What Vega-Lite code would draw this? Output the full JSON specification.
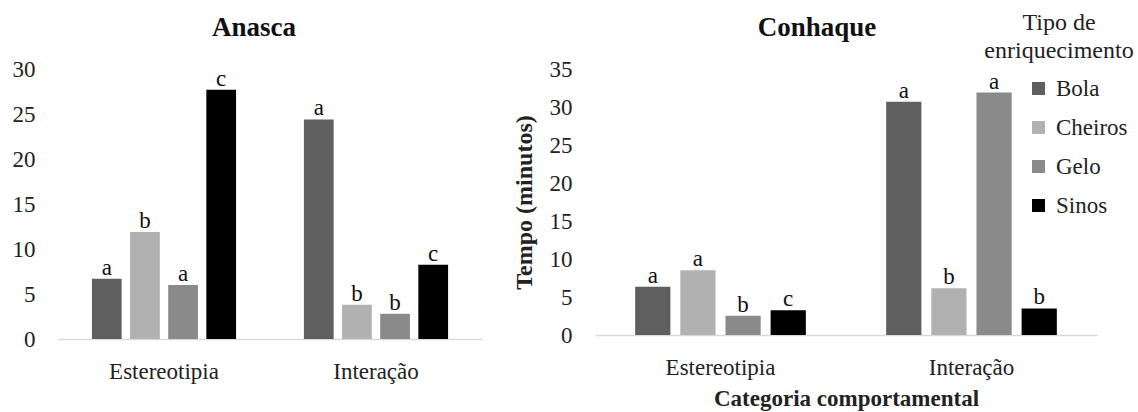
{
  "$schema": "https://vega.github.io/schema/vega-lite/v6.json",
  "padding": {"left": 12, "top": 11, "right": 2, "bottom": 2},
  "background": "white",
  "config": {
    "font": "Times New Roman, Liberation Serif, DejaVu Serif, serif",
    "view": {"stroke": null},
    "axis": {
      "labelFont": "Times New Roman, Liberation Serif, DejaVu Serif, serif",
      "titleFont": "Times New Roman, Liberation Serif, DejaVu Serif, serif",
      "labelColor": "#222222",
      "titleColor": "#222222",
      "labelFontSize": 23,
      "titleFontSize": 23,
      "grid": false,
      "ticks": false,
      "tickSize": 0
    },
    "legend": {
      "labelFont": "Times New Roman, Liberation Serif, DejaVu Serif, serif",
      "titleFont": "Times New Roman, Liberation Serif, DejaVu Serif, serif"
    },
    "title": {"font": "Times New Roman, Liberation Serif, DejaVu Serif, serif", "color": "#111111"},
    "text": {"font": "Times New Roman, Liberation Serif, DejaVu Serif, serif"}
  },
  "resolve": {"scale": {"color": "shared", "y": "independent", "x": "independent", "xOffset": "independent"}, "legend": {"color": "shared"}},
  "spacing": 30,
  "datasets": {
    "anasca": [
      {"categoria": "Estereotipia", "tipo": "Bola", "tempo": 6.7, "letra": "a"},
      {"categoria": "Estereotipia", "tipo": "Cheiros", "tempo": 11.9, "letra": "b"},
      {"categoria": "Estereotipia", "tipo": "Gelo", "tempo": 6.0, "letra": "a"},
      {"categoria": "Estereotipia", "tipo": "Sinos", "tempo": 27.7, "letra": "c"},
      {"categoria": "Interação", "tipo": "Bola", "tempo": 24.4, "letra": "a"},
      {"categoria": "Interação", "tipo": "Cheiros", "tempo": 3.8, "letra": "b"},
      {"categoria": "Interação", "tipo": "Gelo", "tempo": 2.8, "letra": "b"},
      {"categoria": "Interação", "tipo": "Sinos", "tempo": 8.25, "letra": "c"}
    ],
    "conhaque": [
      {"categoria": "Estereotipia", "tipo": "Bola", "tempo": 6.36, "letra": "a"},
      {"categoria": "Estereotipia", "tipo": "Cheiros", "tempo": 8.53, "letra": "a"},
      {"categoria": "Estereotipia", "tipo": "Gelo", "tempo": 2.52, "letra": "b"},
      {"categoria": "Estereotipia", "tipo": "Sinos", "tempo": 3.27, "letra": "c"},
      {"categoria": "Interação", "tipo": "Bola", "tempo": 30.7, "letra": "a"},
      {"categoria": "Interação", "tipo": "Cheiros", "tempo": 6.14, "letra": "b"},
      {"categoria": "Interação", "tipo": "Gelo", "tempo": 31.9, "letra": "a"},
      {"categoria": "Interação", "tipo": "Sinos", "tempo": 3.49, "letra": "b"}
    ]
  },
  "hconcat": [
    {
      "data": {"name": "anasca"},
      "width": 424,
      "height": 270,
      "title": {"text": "Anasca", "fontSize": 27, "fontWeight": "bold", "anchor": "middle", "dx": -16, "offset": 16},
      "encoding": {
        "x": {
          "field": "categoria", "type": "nominal", "sort": ["Estereotipia", "Interação"],
          "scale": {"paddingInner": 0.32, "paddingOuter": 0.16},
          "axis": {"title": null, "labelAngle": 0, "labelPadding": 21, "labelFont": "Times New Roman, Liberation Serif, serif", "domainColor": "#d9d9d9", "domainWidth": 1.5}
        },
        "xOffset": {
          "field": "tipo", "type": "nominal", "sort": ["Bola", "Cheiros", "Gelo", "Sinos"],
          "scale": {"paddingInner": 0.22, "paddingOuter": 0}
        },
        "y": {
          "field": "tempo", "type": "quantitative",
          "scale": {"domain": [0, 30], "nice": false},
          "axis": {"title": null, "values": [0, 5, 10, 15, 20, 25, 30], "domain": false, "labelPadding": 23, "labelFont": "Times New Roman, Liberation Serif, serif"}
        }
      },
      "layer": [
        {
          "mark": {"type": "bar"},
          "encoding": {
            "color": {
              "field": "tipo", "type": "nominal",
              "scale": {"domain": ["Bola", "Cheiros", "Gelo", "Sinos"], "range": ["#5f5f5f", "#b1b1b1", "#8a8a8a", "#000000"]},
              "legend": {
                "orient": "none",
                "legendX": 926,
                "legendY": -58,
                "title": ["Tipo de", "enriquecimento"],
                "titleFontWeight": "normal",
                "titleFontSize": 24,
                "titleColor": "#222222",
                "titleAnchor": "middle",
                "titleAlign": "center",
                "titlePadding": 14,
                "titleLineHeight": 28,
                "labelFontSize": 23,
                "labelColor": "#222222",
                "labelFont": "Times New Roman, Liberation Serif, serif",
                "labelOffset": 6,
                "symbolOffset": 36,
                "symbolType": "square",
                "symbolSize": 169,
                "symbolStrokeWidth": 0,
                "rowPadding": 15
              }
            }
          }
        },
        {
          "mark": {"type": "text", "baseline": "alphabetic", "dy": -4, "fontSize": 23, "color": "#111111"},
          "encoding": {"text": {"field": "letra"}}
        }
      ]
    },
    {
      "data": {"name": "conhaque"},
      "width": 502,
      "height": 266,
      "title": {"text": "Conhaque", "fontSize": 27, "fontWeight": "bold", "anchor": "middle", "dx": -29, "offset": 16},
      "encoding": {
        "x": {
          "field": "categoria", "type": "nominal", "sort": ["Estereotipia", "Interação"],
          "scale": {"paddingInner": 0.32, "paddingOuter": 0.16},
          "axis": {"title": "Categoria comportamental", "titleFontWeight": "bold", "titlePadding": 8, "labelAngle": 0, "labelPadding": 21, "labelFont": "Times New Roman, Liberation Serif, serif", "domainColor": "#d9d9d9", "domainWidth": 1.5}
        },
        "xOffset": {
          "field": "tipo", "type": "nominal", "sort": ["Bola", "Cheiros", "Gelo", "Sinos"],
          "scale": {"paddingInner": 0.22, "paddingOuter": 0}
        },
        "y": {
          "field": "tempo", "type": "quantitative",
          "scale": {"domain": [0, 35], "nice": false},
          "axis": {"title": "Tempo (minutos)", "titleFontWeight": "bold", "titleFontSize": 24, "titlePadding": 13, "values": [0, 5, 10, 15, 20, 25, 30, 35], "domain": false, "labelPadding": 23, "labelFont": "Times New Roman, Liberation Serif, serif"}
        }
      },
      "layer": [
        {
          "mark": {"type": "bar"},
          "encoding": {
            "color": {
              "field": "tipo", "type": "nominal",
              "scale": {"domain": ["Bola", "Cheiros", "Gelo", "Sinos"], "range": ["#5f5f5f", "#b1b1b1", "#8a8a8a", "#000000"]}
            }
          }
        },
        {
          "mark": {"type": "text", "baseline": "alphabetic", "dy": -4, "fontSize": 23, "color": "#111111"},
          "encoding": {"text": {"field": "letra"}}
        }
      ]
    }
  ]
}
